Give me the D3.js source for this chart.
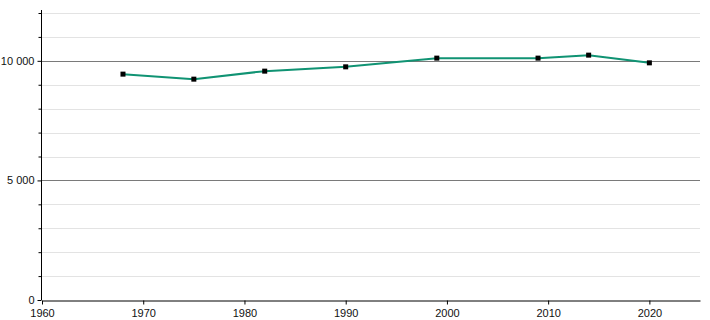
<!DOCTYPE html>
<html><head><meta charset="utf-8">
<script src="https://cdn.jsdelivr.net/npm/d3@7"></script>
<style>body{margin:0;background:#fff;}text{font-family:"Liberation Sans",Arial,sans-serif;}</style>
</head><body><svg id="c" width="710" height="320"></svg>
<script>
const years = [1968, 1975, 1982, 1990, 1999, 2009, 2014, 2020];
const population = [9444, 9234, 9569, 9749, 10113, 10113, 10238, 9916];
const xTicks = [1960, 1970, 1980, 1990, 2000, 2010, 2020];
const yMajor = [0, 5000, 10000];
const yMinor = [1000, 2000, 3000, 4000, 6000, 7000, 8000, 9000, 11000, 12000];

const svg = d3.select("#c");
const m = {l: 42, r: 10, t: 13, b: 20};
const W = 710, H = 320;
const x = d3.scaleLinear().domain([1960, 2025]).range([m.l, W - m.r]);
const y = d3.scaleLinear().domain([0, 12000]).range([H - m.b, m.t]);
const fmt = v => d3.format(",")(v).replace(/,/g, " ");

// grid
svg.append("g").selectAll("line").data(yMinor).join("line")
  .attr("x1", m.l).attr("x2", W - m.r)
  .attr("y1", d => Math.round(y(d)) + 0.5).attr("y2", d => Math.round(y(d)) + 0.5)
  .attr("stroke", "#e3e3e3").attr("stroke-width", 1);
svg.append("g").selectAll("line").data(yMajor.filter(d => d > 0)).join("line")
  .attr("x1", m.l).attr("x2", W - m.r)
  .attr("y1", d => Math.round(y(d)) + 0.5).attr("y2", d => Math.round(y(d)) + 0.5)
  .attr("stroke", "#7a7a7a").attr("stroke-width", 1);

// y axis
const ya = svg.append("g").attr("transform", `translate(${m.l - 0.5},0)`)
  .call(d3.axisLeft(y).tickValues(yMajor).tickFormat(fmt).tickSize(4).tickSizeOuter(0));
ya.append("g").call(d3.axisLeft(y).tickValues(yMinor).tickFormat("").tickSize(3).tickSizeOuter(0))
  .select(".domain").remove();
ya.select(".domain").attr("stroke", "#000").attr("d", `M0,${y(12000) - 3}V${y(0)}`);
ya.selectAll("text").attr("font-size", 11).attr("fill", "#111").attr("font-family", '"Liberation Sans",Arial,sans-serif');

// x axis
const xa = svg.append("g").attr("transform", `translate(0,${y(0) + 0.5})`)
  .call(d3.axisBottom(x).tickValues(xTicks).tickFormat(d3.format("d")).tickSize(4).tickSizeOuter(0));
xa.select(".domain").attr("stroke", "#000");
xa.selectAll("text").attr("font-size", 11).attr("fill", "#111").attr("font-family", '"Liberation Sans",Arial,sans-serif').attr("dy", "0.9em");

// line
const data = years.map((yr, i) => ({yr, v: population[i]}));
svg.append("path").datum(data)
  .attr("fill", "none").attr("stroke", "#109373").attr("stroke-width", 2)
  .attr("d", d3.line().x(d => x(d.yr)).y(d => y(d.v)));
svg.append("g").selectAll("rect").data(data).join("rect")
  .attr("x", d => x(d.yr) - 2.5).attr("y", d => y(d.v) - 2.5)
  .attr("width", 5).attr("height", 5).attr("fill", "#000");
</script></body></html>
